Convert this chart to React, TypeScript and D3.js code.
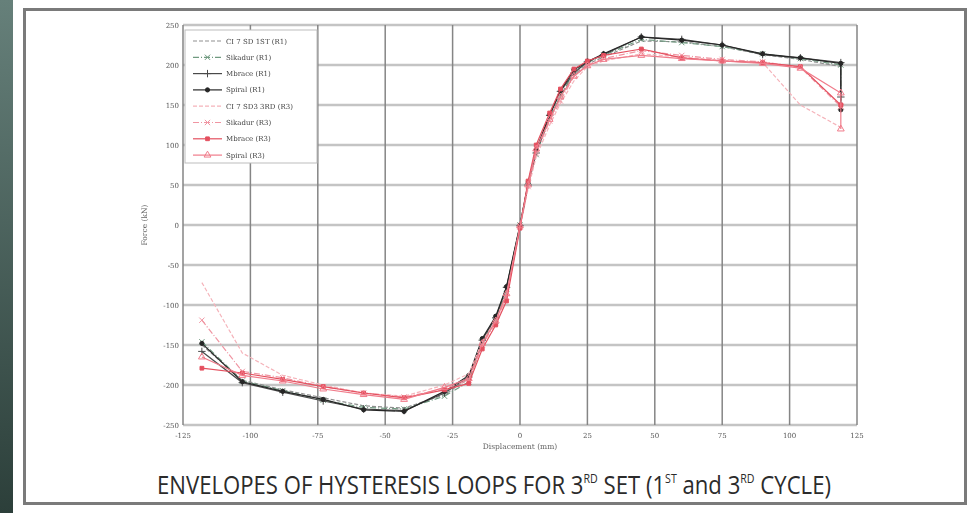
import React, { useLayoutEffect, useRef, useState } from "react";
import * as d3 from "d3";

// ---------- data ----------
const DISP = [-118, -103, -88, -73, -58, -43, -28, -19, -14, -9, -5, 0, 3, 6, 11, 15, 20, 25, 31, 45, 60, 75, 90, 104, 119, 119];

const CI7_R1 = [-150, -194, -206, -216, -226, -229, -212, -192, -150, -118, -85, -2, 48, 92, 132, 162, 188, 201, 210, 230, 229, 223, 213, 207, 198, 198];
const SIKADUR_R1 = [-146, -195, -207, -219, -228, -230, -214, -196, -146, -120, -80, 0, 52, 88, 135, 160, 192, 203, 212, 232, 228, 223, 214, 208, 200, 148];
const MBRACE_R1 = [-158, -197, -209, -220, -230, -232, -210, -190, -144, -116, -78, -1, 50, 90, 137, 167, 190, 204, 213, 235, 232, 225, 213, 209, 203, 160];
const SPIRAL_R1 = [-148, -196, -208, -218, -231, -233, -208, -188, -142, -114, -77, 0, 52, 94, 138, 168, 194, 204, 214, 235, 231, 225, 214, 209, 202, 144];
const CI7_R3 = [-72, -160, -188, -200, -210, -214, -200, -186, -146, -119, -88, -3, 45, 85, 125, 152, 180, 198, 205, 214, 210, 206, 203, 150, 122, 122];
const SIKADUR_R3 = [-119, -183, -191, -202, -210, -215, -205, -194, -150, -122, -90, -2, 48, 90, 130, 155, 186, 200, 208, 218, 212, 207, 204, 197, 148, 148];
const MBRACE_R3 = [-179, -185, -193, -202, -210, -216, -206, -198, -155, -125, -95, -4, 55, 100, 140, 170, 195, 205, 212, 220, 209, 205, 203, 198, 150, 150];
const SPIRAL_R3 = [-165, -188, -195, -205, -212, -218, -203, -192, -148, -120, -86, -1, 50, 95, 132, 160, 186, 199, 207, 212, 208, 205, 202, 196, 165, 120];

const SERIES_NAMES = [
  "CI 7 SD 1ST (R1)",
  "Sikadur (R1)",
  "Mbrace (R1)",
  "Spiral (R1)",
  "CI 7 SD3 3RD (R3)",
  "Sikadur (R3)",
  "Mbrace (R3)",
  "Spiral (R3)",
];
const SERIES_VALUES = [CI7_R1, SIKADUR_R1, MBRACE_R1, SPIRAL_R1, CI7_R3, SIKADUR_R3, MBRACE_R3, SPIRAL_R3];

const X_TICKS = [-125, -100, -75, -50, -25, 0, 25, 50, 75, 100, 125];
const Y_TICKS = [-250, -200, -150, -100, -50, 0, 50, 100, 150, 200, 250];

// caption pieces: [text, isSuperscript]
const CAPTION: [string, boolean][] = [
  ["ENVELOPES OF HYSTERESIS LOOPS FOR 3", false],
  ["RD", true],
  [" SET (1", false],
  ["ST", true],
  [" and 3", false],
  ["RD", true],
  [" CYCLE)", false],
];

// ---------- styles ----------
const STYLES = [
  { color: "#8f8f8f", dash: "4,2", symbol: null, fill: false },
  { color: "#6f9a80", dash: "6,2,1,2", symbol: d3.symbolTimes, fill: false },
  { color: "#4a4a4a", dash: null, symbol: d3.symbolPlus, fill: false },
  { color: "#262626", dash: null, symbol: d3.symbolCircle, fill: true },
  { color: "#f5b3ba", dash: "4,2", symbol: null, fill: false },
  { color: "#f095a2", dash: "6,2,1,2", symbol: d3.symbolTimes, fill: false },
  { color: "#e4505f", dash: null, symbol: d3.symbolSquare, fill: true },
  { color: "#f07b8a", dash: null, symbol: d3.symbolTriangle, fill: false },
];

const W = 973;
const H = 513;
const CAP_X = 157;
const CAP_W = 674;

export default function App() {
  const capRef = useRef<SVGTextElement | null>(null);
  const [sx, setSx] = useState(0.82);

  useLayoutEffect(() => {
    if (capRef.current) {
      const w = capRef.current.getComputedTextLength();
      if (w > 0) setSx(CAP_W / w);
    }
  }, []);

  const x = d3.scaleLinear().domain([-125, 125]).range([183, 857]);
  const y = d3.scaleLinear().domain([-250, 250]).range([425, 25]);
  const line = d3
    .line<[number, number]>()
    .x((d) => x(d[0]))
    .y((d) => y(d[1]));

  const serif = "'DejaVu Serif', 'Liberation Serif', serif";
  const legendX = 185;
  const legendY = 30;
  const rowH = 16.3;
  const symFor = (st: any) =>
    st.symbol
      ? d3
          .symbol()
          .type(st.symbol)
          .size(st.symbol === d3.symbolCircle || st.symbol === d3.symbolSquare ? 14 : 20)()
      : null;

  return (
    <svg width={W} height={H} style={{ position: "fixed", left: 0, top: 0, background: "#fff" }}>
      <defs>
        <linearGradient id="strip" x1="0" y1="0" x2="0" y2="1">
          <stop offset="0" stopColor="#66807a" />
          <stop offset="1" stopColor="#2c3f3a" />
        </linearGradient>
        <filter id="soft" x="-5%" y="-5%" width="110%" height="110%">
          <feGaussianBlur stdDeviation="0.5" />
        </filter>
      </defs>
      <rect x={0} y={0} width={W} height={H} fill="#fff" />
      <rect x={0} y={0} width={13} height={H} fill="url(#strip)" />
      {/* outer box */}
      <rect x={24.5} y={9.5} width={941} height={494} fill="#fff" stroke="#7a7a7a" strokeWidth={3} />

      <g filter="url(#soft)">
        {/* grid */}
        {Y_TICKS.map((t) => (
          <line key={"h" + t} x1={x(-125)} x2={x(125)} y1={y(t)} y2={y(t)} stroke="#c4c4c4" strokeWidth={2.5} />
        ))}
        {X_TICKS.map((t) => (
          <line key={"v" + t} x1={x(t)} x2={x(t)} y1={y(250)} y2={y(-250)} stroke="#858585" strokeWidth={1.5} />
        ))}

        {/* tick labels */}
        {Y_TICKS.map((t) => (
          <text key={"yl" + t} x={x(-125) - 4} y={y(t) + 2.5} fontSize={7} fontFamily={serif} fill="#555" textAnchor="end">
            {t}
          </text>
        ))}
        {X_TICKS.map((t) => (
          <text key={"xl" + t} x={x(t)} y={y(-250) + 13} fontSize={7} fontFamily={serif} fill="#555" textAnchor="middle">
            {t}
          </text>
        ))}
        <text x={x(0)} y={449} fontSize={7.5} fontFamily={serif} fill="#666" textAnchor="middle">
          Displacement (mm)
        </text>
        <text transform={`translate(147, ${y(0)}) rotate(-90)`} fontSize={7.5} fontFamily={serif} fill="#666" textAnchor="middle">
          Force (kN)
        </text>

        {/* series */}
        {SERIES_VALUES.map((vals, i) => {
          const st = STYLES[i];
          const pts: [number, number][] = DISP.map((d, j) => [d, vals[j]]);
          const sym = symFor(st);
          return (
            <g key={"s" + i}>
              <path d={line(pts) || ""} fill="none" stroke={st.color} strokeWidth={1.2} strokeDasharray={st.dash || undefined} />
              {sym &&
                pts.map((p, j) => (
                  <path
                    key={j}
                    d={sym}
                    transform={`translate(${x(p[0])},${y(p[1])})`}
                    fill={st.fill ? st.color : "none"}
                    stroke={st.color}
                    strokeWidth={1}
                  />
                ))}
            </g>
          );
        })}

        {/* legend */}
        <rect x={legendX} y={legendY} width={132} height={133} fill="#fff" stroke="#bdbdbd" strokeWidth={1} />
        {SERIES_NAMES.map((name, i) => {
          const st = STYLES[i];
          const cy = legendY + 11 + i * rowH;
          const sym = symFor(st);
          return (
            <g key={"lg" + i}>
              <line x1={legendX + 8} x2={legendX + 37} y1={cy} y2={cy} stroke={st.color} strokeWidth={1.2} strokeDasharray={st.dash || undefined} />
              {sym && (
                <path d={sym} transform={`translate(${legendX + 22.5},${cy})`} fill={st.fill ? st.color : "none"} stroke={st.color} strokeWidth={1} />
              )}
              <text x={legendX + 41} y={cy + 2.5} fontSize={7} fontFamily={serif} fill="#444">
                {name}
              </text>
            </g>
          );
        })}
      </g>

      {/* caption */}
      <g transform={`translate(${CAP_X}, 494) scale(${sx}, 1)`}>
        <text
          ref={capRef}
          x={0}
          y={0}
          fontSize={25}
          fontFamily="'Open Sans', 'Noto Sans', sans-serif"
          fontWeight={500}
          fill="#2b2b2b"
        >
          {CAPTION.map(([t, sup], i) =>
            sup ? (
              <tspan key={i} fontSize={12} baselineShift="11">
                {t}
              </tspan>
            ) : (
              <tspan key={i}>{t}</tspan>
            )
          )}
        </text>
      </g>
    </svg>
  );
}
